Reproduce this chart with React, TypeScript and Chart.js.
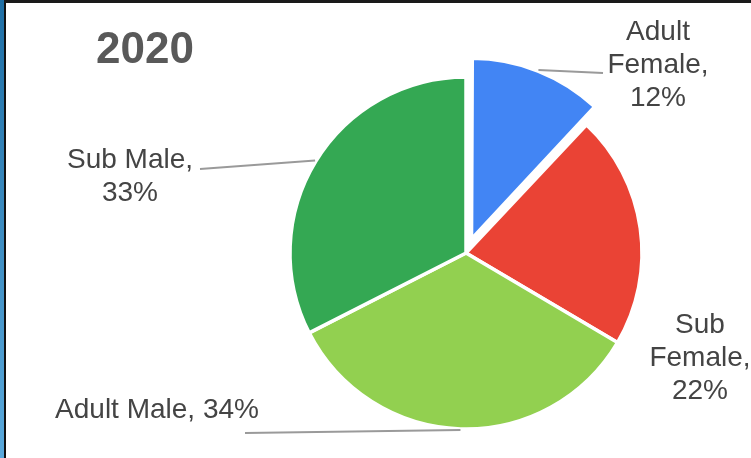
import React, { useEffect, useRef } from "react";
import { Chart, registerables } from "chart.js";

Chart.register(...registerables);

const title = "2020";
const categories = ["Adult Female", "Sub Female", "Adult Male", "Sub Male"];
const values = [12, 21.5, 34, 32.5];
const colors = ["#4285F4", "#EA4335", "#92D050", "#34A853"];
const sliceOffsets = [60, 0, 0, 0];

// label placement relative to the pie centre (styling/layout only)
const labelLayout = [
  { wrap: "words", dx: 192, dy: -213, end: [137, -180] as number[] | null },
  { wrap: "words", dx: 234, dy: 80, end: null as number[] | null },
  { wrap: "single", dx: -309, dy: 165, end: [-221, 180] as number[] | null },
  { wrap: "name", dx: -336, dy: -85, end: [-266, -84] as number[] | null },
];

const FONT = '"Liberation Sans", Arial, sans-serif';

const labelPlugin = {
  id: "pieLabels",
  afterDraw(chart: any) {
    const ctx = chart.ctx;
    const meta = chart.getDatasetMeta(0);
    const data = chart.data.datasets[0].data as number[];
    const total = data.reduce((a, b) => a + b, 0);
    ctx.save();
    ctx.font = `bold 44px ${FONT}`;
    ctx.fillStyle = "#595959";
    ctx.textAlign = "left";
    ctx.textBaseline = "alphabetic";
    ctx.fillText(title, 96, 63);

    meta.data.forEach((el: any, i: number) => {
      const p = el.getProps(["x", "y", "startAngle", "endAngle", "outerRadius", "circumference"], true);
      const mid = (p.startAngle + p.endAngle) / 2;
      const base = (el.options.offset || 0) / 4;
      const fix = 1 - Math.sin(Math.min(Math.PI, p.circumference || 0));
      const off = base * (1 + fix);
      const cx = p.x + Math.cos(mid) * off;
      const cy = p.y + Math.sin(mid) * off;
      const sx = cx + Math.cos(mid) * (p.outerRadius + 1);
      const sy = cy + Math.sin(mid) * (p.outerRadius + 1);
      const lay = labelLayout[i];
      const pct = Math.round((data[i] / total) * 100) + "%";
      const name = chart.data.labels[i] as string;
      let lines: string[];
      if (lay.wrap === "words") {
        const w = name.split(" ");
        lines = [...w.slice(0, -1), w[w.length - 1] + ",", pct];
      } else if (lay.wrap === "name") {
        lines = [name + ",", pct];
      } else {
        lines = [name + ", " + pct];
      }
      if (lay.end) {
        ctx.strokeStyle = "#9a9a9a";
        ctx.lineWidth = 2;
        ctx.beginPath();
        ctx.moveTo(sx, sy);
        ctx.lineTo(p.x + lay.end[0], p.y + lay.end[1]);
        ctx.stroke();
      }
      ctx.font = `28px ${FONT}`;
      ctx.fillStyle = "#444444";
      ctx.textAlign = "center";
      lines.forEach((t, k) => {
        ctx.fillText(t, p.x + lay.dx, p.y + lay.dy + k * 33);
      });
    });
    ctx.restore();
  },
};

export default function App() {
  const ref = useRef<HTMLCanvasElement>(null);
  useEffect(() => {
    if (!ref.current) return;
    const chart = new Chart(ref.current, {
      type: "pie",
      data: {
        labels: categories,
        datasets: [
          {
            data: values,
            backgroundColor: colors,
            borderColor: "#ffffff",
            borderWidth: 3.5,
            offset: sliceOffsets,
            hoverOffset: 0,
            radius: 176,
          } as any,
        ],
      },
      options: {
        animation: false,
        responsive: false,
        maintainAspectRatio: false,
        layout: { padding: { left: 216, right: 35, top: 66.5, bottom: 18.5 } },
        plugins: {
          legend: { display: false },
          tooltip: { enabled: false },
          title: { display: false },
        },
        events: [],
      },
      plugins: [labelPlugin],
    });
    return () => chart.destroy();
  }, []);
  return (
    <div
      style={{
        position: "fixed",
        left: 0,
        top: 0,
        width: 751,
        height: 458,
        background: "#ffffff",
        overflow: "hidden",
      }}
    >
      <canvas
        ref={ref}
        width={751}
        height={458}
        style={{ position: "absolute", left: 0, top: 0, width: 751, height: 458 }}
      />
      <div style={{ position: "absolute", left: 0, top: 0, width: 4, height: 458, background: "linear-gradient(#1f6fa5, #5aa9dc)" }} />
      <div style={{ position: "absolute", left: 4, top: 0, width: 2, height: 458, background: "#111" }} />
      <div style={{ position: "absolute", left: 4, top: 0, width: 747, height: 3, background: "#1a1a1a" }} />
    </div>
  );
}
